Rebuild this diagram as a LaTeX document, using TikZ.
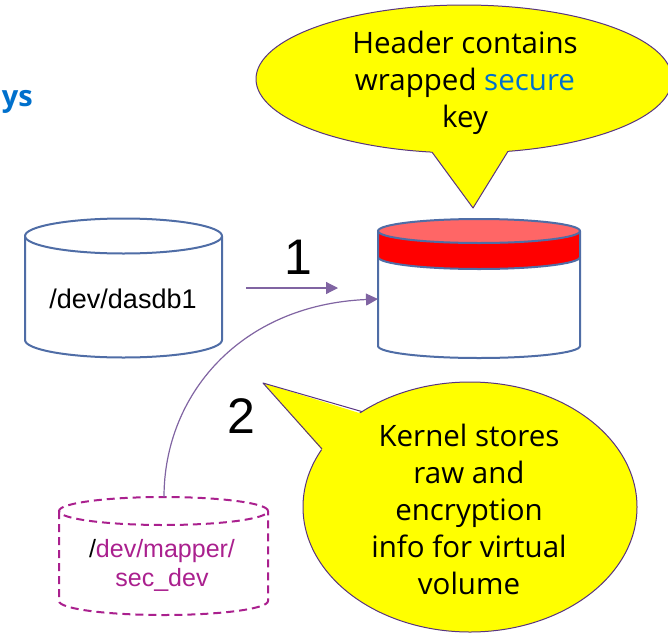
\documentclass[tikz,border=0pt]{standalone}
\usepackage{fontspec}
\setmainfont{Open Sans}
\newfontfamily\arialf{Liberation Sans}
\usetikzlibrary{arrows.meta}
\definecolor{cylblue}{RGB}{79,109,166}
\definecolor{arrowpurple}{RGB}{128,100,162}
\definecolor{calloutline}{RGB}{88,52,128}
\definecolor{magentadev}{RGB}{170,32,142}
\definecolor{ibmblue}{RGB}{0,112,204}
\definecolor{lightred}{RGB}{255,102,102}
\definecolor{calloutfill}{RGB}{255,255,0}
\begin{document}
\begin{tikzpicture}[x=1pt,y=-1pt,
  cyl/.style={draw=cylblue, line width=2pt, line join=round},
  dcyl/.style={draw=magentadev, line width=2pt, dash pattern=on 8pt off 5pt},
  callout/.style={draw=calloutline, line width=1pt, fill=calloutfill},
  calltext/.style={font=\fontsize{29.5}{37}\selectfont, align=center, inner sep=0pt},
  conn/.style={draw=arrowpurple, line width=1.2pt, -{Triangle[length=12pt,width=12pt]}},
  numlabel/.style={font=\arialf\fontsize{50}{50}\selectfont, inner sep=0pt}]
\useasboundingbox (0,0) rectangle (668,637);
\begin{scope}
\clip (0,0) rectangle (668,637);
% title fragment
\node[font=\fontsize{29}{30}\selectfont\bfseries, text=ibmblue, anchor=base east, inner sep=0pt] (ttl) at (33,106) {ys};

% disk 1
\draw[cyl, fill=white] (25,236) -- (25,340) arc[start angle=180,end angle=360,x radius=98.5pt,y radius=17.5pt] -- (222,236);
\draw[cyl, fill=white] (123.5,236) ellipse[x radius=98.5pt,y radius=17.5pt];
\node[font=\arialf\fontsize{27}{32}\selectfont, inner sep=0pt] (d1) at (123,299) {/dev/dasdb1};

% disk 2 (encrypted, red header)
\draw[cyl, fill=white] (378,257) -- (378,346) arc[start angle=180,end angle=360,x radius=101pt,y radius=12pt] -- (580,257);
\draw[cyl, fill=red] (378,231) -- (378,257) arc[start angle=180,end angle=360,x radius=101pt,y radius=12pt] -- (580,231);
\draw[cyl, fill=lightred] (479,231) ellipse[x radius=101pt,y radius=12pt];
\node[inner sep=0pt, minimum width=202pt, minimum height=140pt] (d2) at (479,289) {};

% disk 3 (virtual, dashed)
\draw[dcyl] (59,511) -- (59,601) arc[start angle=180,end angle=360,x radius=104.5pt,y radius=14pt] -- (268,511);
\draw[dcyl] (163.5,511) ellipse[x radius=104.5pt,y radius=14pt];
\node[font=\arialf\fontsize{25}{29}\selectfont, align=center, text=magentadev, inner sep=0pt] (d3) at (162,565) {\textcolor{black}{/}dev/mapper/\\sec\_dev};

% arrows
\coordinate (a1s) at (246,288);
\coordinate (a1e) at (338,288);
\draw[conn] (a1s) -- (a1e);
\coordinate (a2s) at (164,497);
\coordinate (a2e) at (378,299);
\draw[conn] (a2s) .. controls (164,395) and (240,305) .. (a2e);
\node[numlabel] (n1) at (298,257) {1};
\node[numlabel] (n2) at (241,416) {2};

% top callout
\draw[callout] (464,79) ellipse[x radius=208pt,y radius=74pt];
\fill[calloutfill] (430,149.3) -- (473,208) -- (509.75,148.5) -- cycle;
\draw[calloutline, line width=1pt, line join=round] (432,152.1) -- (473,208) -- (508,151.3);
\node[calltext] (hdr) at (465,83) {Header contains\\wrapped \textcolor{ibmblue}{secure}\\key};

% bottom callout
\draw[callout] (470,507) ellipse[x radius=167pt,y radius=125pt];
\fill[calloutfill] (368,415.7) -- (263,383) -- (325.5,454) -- cycle;
\draw[calloutline, line width=1pt, line join=round] (362,411.6) -- (263,383) -- (322,449);
\node[calltext] (kern) at (469,509) {Kernel stores\\raw and\\encryption\\info for virtual\\volume};
\end{scope}
\end{tikzpicture}
\end{document}
